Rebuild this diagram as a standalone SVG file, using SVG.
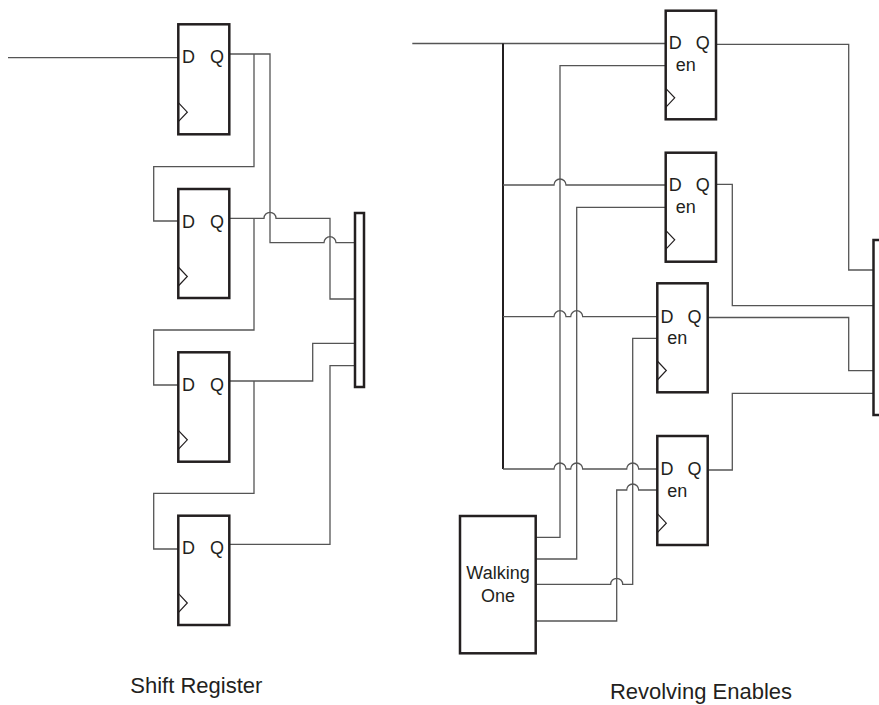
<svg xmlns="http://www.w3.org/2000/svg" width="879" height="705" viewBox="0 0 879 705">
<style>
.box{fill:#fff;stroke:#231f20;stroke-width:2.5}
.ck{fill:none;stroke:#231f20;stroke-width:1.2}
.w{fill:none;stroke:#555;stroke-width:1.3}
.bus{fill:none;stroke:#231f20;stroke-width:2}
.t{font-family:"Liberation Sans",Arial,sans-serif;font-size:18px;fill:#231f20;text-anchor:middle}
.lbl{font-family:"Liberation Sans",Arial,sans-serif;font-size:22px;fill:#231f20;text-anchor:middle}
</style>
<rect width="879" height="705" fill="#fff"/>
<g id="connectors">
<path class="w" d="M8 57.7H178"/>
<path class="w" d="M229 54H270V242.7H324A6 6 0 0 1 336 242.7H355"/>
<path class="w" d="M254 54V166.7H153.7V221H178"/>
<path class="w" d="M229 218.3H264A6 6 0 0 1 276 218.3H330V299H355"/>
<path class="w" d="M254 218.3V330H153.7V385H178"/>
<path class="w" d="M229 381H312.7V343.3H355"/>
<path class="w" d="M254 381V493.3H153.7V549H178"/>
<path class="w" d="M229 544.3H330V365.7H355"/>
<path class="w" d="M412.3 43.5H665.7"/>
<path class="bus" d="M503 43.5V469"/>
<path class="w" d="M503 185H554A6 6 0 0 1 566 185H665.7"/>
<path class="w" d="M503 316.7H554A6 6 0 0 1 566 316.7H570.7A6 6 0 0 1 582.7 316.7H657.3"/>
<path class="w" d="M503 469H554A6 6 0 0 1 566 469H570.7A6 6 0 0 1 582.7 469H626.7A6 6 0 0 1 638.7 469H657.3"/>
<path class="w" d="M535.7 537.3H560V65.7H665.7"/>
<path class="w" d="M535.7 559H576.7V207.3H665.7"/>
<path class="w" d="M535.7 584.3H610.7A6 6 0 0 1 622.7 584.3H632.7V338.3H657.3"/>
<path class="w" d="M535.7 621H616.7V490H626.7A6 6 0 0 1 638.7 490H657.3"/>
<path class="w" d="M716 44.3H848.7V270H873"/>
<path class="w" d="M716 184.3H732.3V305.7H873"/>
<path class="w" d="M707.7 317.5H848.7V370.7H873"/>
<path class="w" d="M707.7 470H732.3V393.3H873"/>
</g>
<g id="sr1"><rect class="box" x="178.3" y="24.3" width="51" height="110"/><polyline class="ck" points="178.3,102.7 187.3,112.2 178.3,121.7"/><text class="t" x="188.5" y="63">D</text><text class="t" x="217" y="63">Q</text></g>
<g id="sr2"><rect class="box" x="178.3" y="189" width="51" height="109"/><polyline class="ck" points="178.3,267 187.3,276.5 178.3,286"/><text class="t" x="188.5" y="227.5">D</text><text class="t" x="217" y="227.5">Q</text></g>
<g id="sr3"><rect class="box" x="178.3" y="352.3" width="51" height="109.4"/><polyline class="ck" points="178.3,430.3 187.3,439.8 178.3,449.3"/><text class="t" x="188.5" y="390.8">D</text><text class="t" x="217" y="390.8">Q</text></g>
<g id="sr4"><rect class="box" x="178.3" y="515.7" width="51" height="109.3"/><polyline class="ck" points="178.3,593.3 187.3,603 178.3,612.7"/><text class="t" x="188.5" y="554.2">D</text><text class="t" x="217" y="554.2">Q</text></g>
<g id="mux-left"><rect class="box" x="355" y="213" width="9" height="174"/></g>
<g id="ffA"><rect class="box" x="665.7" y="10.7" width="50.3" height="108.6"/><polyline class="ck" points="665.7,88.3 674.7,97.8 665.7,107.3"/><text class="t" x="675.3" y="49">D</text><text class="t" x="702.7" y="49">Q</text><text class="t" x="685.7" y="70.5">en</text></g>
<g id="ffB"><rect class="box" x="665.7" y="152.7" width="50.3" height="109"/><polyline class="ck" points="665.7,230.3 674.7,239.8 665.7,249.3"/><text class="t" x="675.3" y="191">D</text><text class="t" x="702.7" y="191">Q</text><text class="t" x="685.7" y="212.5">en</text></g>
<g id="ffC"><rect class="box" x="657.3" y="283.3" width="50.4" height="109"/><polyline class="ck" points="657.3,361 666.3,370.5 657.3,380"/><text class="t" x="666.9" y="322.5">D</text><text class="t" x="694.4" y="322.5">Q</text><text class="t" x="677.3" y="344">en</text></g>
<g id="ffD"><rect class="box" x="657.3" y="436" width="50.4" height="109"/><polyline class="ck" points="657.3,513.7 666.3,523.2 657.3,532.7"/><text class="t" x="666.9" y="475">D</text><text class="t" x="694.4" y="475">Q</text><text class="t" x="677.3" y="496.5">en</text></g>
<g id="mux-right"><rect class="box" x="873.5" y="240" width="14" height="175"/></g>
<g id="walking-one"><rect class="box" x="460" y="516" width="75.7" height="137.3"/><text class="t" x="498" y="579">Walking</text><text class="t" x="498" y="602">One</text></g>
<g id="labels"><text class="lbl" x="196.3" y="693.3">Shift Register</text><text class="lbl" x="701" y="699.3">Revolving Enables</text></g>
</svg>
